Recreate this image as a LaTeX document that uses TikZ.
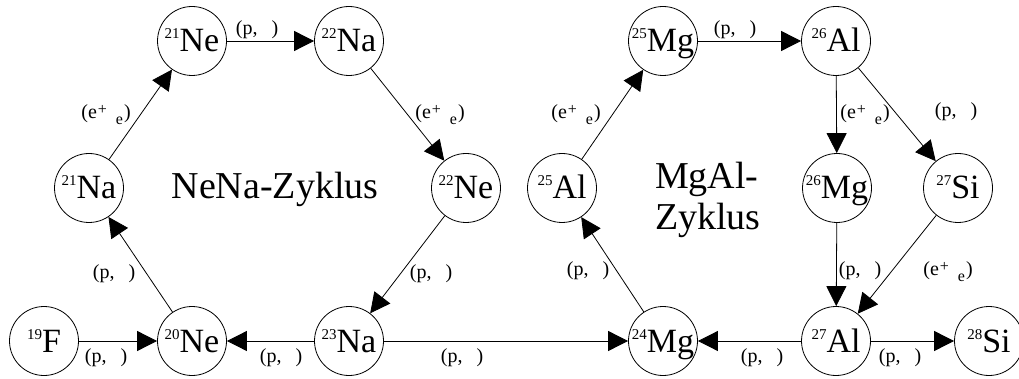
\documentclass[tikz,border=0pt]{standalone}
\usepackage{fontspec}
\setmainfont{Liberation Serif}
\usetikzlibrary{arrows.meta}

\newcommand{\nucl}[2]{\raisebox{13pt}{\fontsize{15}{15}\selectfont #1}#2}
\newcommand{\lblpg}{(p,\hspace{14pt})}
\newcommand{\lblev}{(e\hspace{1pt}\raisebox{4pt}{\fontsize{16}{16}\selectfont +}\hspace{9pt}\raisebox{-6pt}{\fontsize{16}{16}\selectfont e}\hspace{1pt})}

\begin{document}
\begin{tikzpicture}[x=1pt,y=-1pt,
  nuc/.style={circle,draw,line width=0.8pt,inner sep=0pt,minimum size=69pt,
    text height=22pt,text depth=0pt,font=\fontsize{34}{34}\selectfont},
  lbl/.style={font=\fontsize{20}{20}\selectfont,inner sep=0pt},
  big/.style={font=\fontsize{38}{41}\selectfont,inner sep=0pt},
  arr/.style={line width=0.8pt,-{Triangle[length=20pt,width=20pt]}}]
\useasboundingbox (0,0) rectangle (1019,379);

% nuclides
\node[nuc] (F19)  at (44,341)  {\nucl{19}{F}};
\node[nuc] (Ne20) at (192,341) {\nucl{20}{Ne}};
\node[nuc] (Na21) at (89,188)  {\nucl{21}{Na}};
\node[nuc] (Ne21) at (192,41)  {\nucl{21}{Ne}};
\node[nuc] (Na22) at (349,41)  {\nucl{22}{Na}};
\node[nuc] (Ne22) at (466,188) {\nucl{22}{Ne}};
\node[nuc] (Na23) at (349,341) {\nucl{23}{Na}};
\node[nuc] (Mg24) at (663,341) {\nucl{24}{Mg}};
\node[nuc] (Al25) at (562,188) {\nucl{25}{Al}};
\node[nuc] (Mg25) at (663,41)  {\nucl{25}{Mg}};
\node[nuc] (Al26) at (836,41)  {\nucl{26}{Al}};
\node[nuc] (Mg26) at (837,188) {\nucl{26}{Mg}};
\node[nuc] (Si27) at (958,188) {\nucl{27}{Si}};
\node[nuc] (Al27) at (836,341) {\nucl{27}{Al}};
\node[nuc] (Si28) at (989,341) {\nucl{28}{Si}};

% cycle names
\node[big,anchor=base] (nena) at (275,199) {NeNa-Zyklus};
\node[big,anchor=base west] (mgal1) at (655,189) {MgAl-};
\node[big,anchor=base west] (mgal2) at (655,230) {Zyklus};

% connectors
\draw[arr] (F19) -- (Ne20);
\draw[arr] (Na23) -- (Ne20);
\draw[arr] (Ne20) -- (Na21);
\draw[arr] (Na21) -- (Ne21);
\draw[arr] (Ne21) -- (Na22);
\draw[arr] (Na22) -- (Ne22);
\draw[arr] (Ne22) -- (Na23);
\draw[arr] (Na23) -- (Mg24);
\draw[arr] (Mg24) -- (Al25);
\draw[arr] (Al25) -- (Mg25);
\draw[arr] (Mg25) -- (Al26);
\draw[arr] (Al26) -- (Mg26);
\draw[arr] (Al26) -- (Si27);
\draw[arr] (Mg26) -- (Al27);
\draw[arr] (Si27) -- (Al27);
\draw[arr] (Al27) -- (Mg24);
\draw[arr] (Al27) -- (Si28);

% reaction labels
\node[lbl] (l1)  at (257,30)  {\lblpg};
\node[lbl] (l2)  at (106,115) {\lblev};
\node[lbl] (l3)  at (440,115) {\lblev};
\node[lbl] (l4)  at (114,274) {\lblpg};
\node[lbl] (l5)  at (431,274) {\lblpg};
\node[lbl] (l6)  at (106,358) {\lblpg};
\node[lbl] (l7)  at (281,358) {\lblpg};
\node[lbl] (l8)  at (462,358) {\lblpg};
\node[lbl] (l9)  at (735,30)  {\lblpg};
\node[lbl] (l10) at (576,115) {\lblev};
\node[lbl] (l11) at (865,115) {\lblev};
\node[lbl] (l12) at (956,112) {\lblpg};
\node[lbl] (l13) at (588,271) {\lblpg};
\node[lbl] (l14) at (860,271) {\lblpg};
\node[lbl] (l15) at (948,272) {\lblev};
\node[lbl] (l16) at (762,358) {\lblpg};
\node[lbl] (l17) at (900,358) {\lblpg};
\end{tikzpicture}
\end{document}
